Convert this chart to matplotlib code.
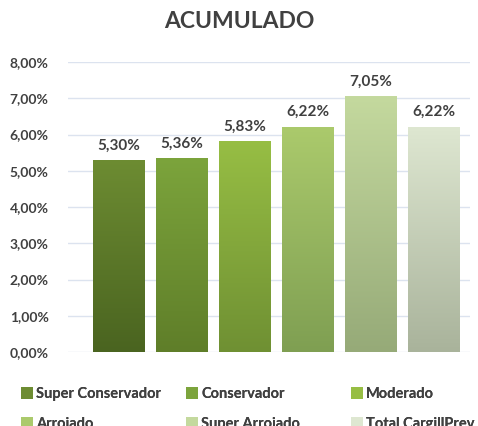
import numpy as np
import matplotlib.pyplot as plt
from matplotlib.patches import Patch
from matplotlib.colors import LinearSegmentedColormap

plt.rcParams['font.family'] = ['Lato', 'DejaVu Sans']

categorias = ['Super Conservador', 'Conservador', 'Moderado',
              'Arrojado', 'Super Arrojado', 'Total CargillPrev']
valores = [5.30, 5.36, 5.83, 6.22, 7.05, 6.22]
rotulos = ['5,30%', '5,36%', '5,83%', '6,22%', '7,05%', '6,22%']
yticks = [0, 1, 2, 3, 4, 5, 6, 7, 8]
ytick_labels = ['0,00%', '1,00%', '2,00%', '3,00%', '4,00%',
                '5,00%', '6,00%', '7,00%', '8,00%']
# gradient (top, bottom) per bar
cores_topo = ['#6d8c32', '#7ca43c', '#97be44', '#abca6c', '#c4d99e', '#dee7d1']
cores_base = ['#4a6420', '#5f7e29', '#6f9033', '#7f9f52', '#96aa78', '#a9b39b']

texto = '#404040'

fig = plt.figure(figsize=(4.78, 4.26), dpi=100)
ax = fig.add_axes([68 / 478, 1 - 352 / 426, 402 / 478, 290 / 426])

x = np.arange(len(valores))
w = 0.825
barras = ax.bar(x, valores, width=w, color='none', zorder=3)

grad = np.linspace(1, 0, 256).reshape(-1, 1)
for i, b in enumerate(barras):
    cmap = LinearSegmentedColormap.from_list('g', [cores_base[i], cores_topo[i]])
    im = ax.imshow(grad, cmap=cmap, aspect='auto', zorder=3,
                   extent=[b.get_x(), b.get_x() + w, 0, valores[i]])
    im.set_clip_path(b)
    ax.text(x[i], valores[i] + 0.2, rotulos[i], ha='center', va='bottom',
            fontsize=11, fontweight='bold', color=texto)

ax.set_xlim(-0.81, 5.57)
ax.set_ylim(0, 8)
ax.set_yticks(yticks)
ax.set_yticklabels(ytick_labels, fontsize=10, fontweight='bold', color=texto)
ax.set_xticks([])
ax.tick_params(axis='y', length=0, pad=14)
ax.grid(axis='y', color='#dce3ef', linewidth=1, zorder=0)
for s in ax.spines.values():
    s.set_visible(False)

fig.text(0.5, 1 - 22 / 426, 'ACUMULADO', ha='center', va='center',
         fontsize=16.5, fontweight='bold', color=texto)

# legend: three columns, two rows (row-wise order)
col_x = [21, 186, 351]
for c in range(3):
    idx = [c, c + 3]
    leg = fig.legend([Patch(facecolor=cores_topo[i]) for i in idx],
                     [categorias[i] for i in idx],
                     loc='upper left', bbox_to_anchor=(col_x[c] / 478, 1 - 387 / 426),
                     frameon=False, handlelength=0.85, handleheight=0.85,
                     handletextpad=0.2, labelspacing=1.1, borderaxespad=0,
                     borderpad=0, prop={'size': 10.5, 'weight': 'bold'},
                     labelcolor=texto)
    fig.add_artist(leg)

fig.savefig('out.png', dpi=100)
